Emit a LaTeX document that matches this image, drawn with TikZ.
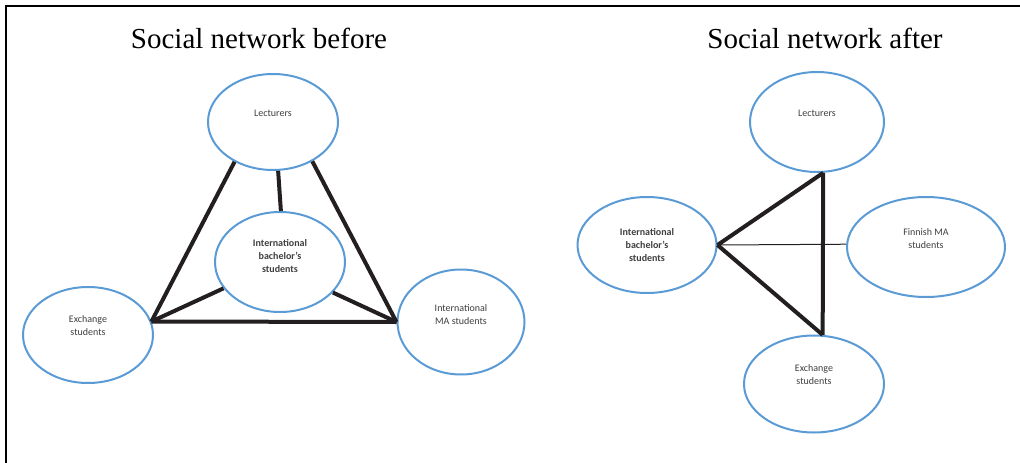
\documentclass[tikz,border=0pt]{standalone}
\usepackage{fontspec}
\setmainfont{Liberation Serif}
\newfontfamily\labelfont{Carlito}
\usetikzlibrary{shapes.geometric}
\definecolor{ringblue}{HTML}{5B9BD5}
\definecolor{inkblack}{HTML}{231F20}
\definecolor{labelgrey}{HTML}{3F3F3F}
\tikzset{
  person/.style={ellipse, draw=ringblue, line width=2pt, fill=white, inner sep=0pt},
  caption/.style={align=center, text=labelgrey, inner sep=0pt,
    font=\labelfont\fontsize{10}{13}\selectfont},
  strongcaption/.style={caption, font=\labelfont\bfseries\fontsize{10}{13}\selectfont},
  tie/.style={draw=inkblack, line width=4pt, line cap=butt},
  thintie/.style={draw=inkblack, line width=1pt},
  heading/.style={font=\fontsize{29}{32}\selectfont, text=black, inner sep=0pt},
  frameline/.style={draw=black, line width=1.8pt}
}
\begin{document}
\begin{tikzpicture}[x=1pt, y=-1pt]
\useasboundingbox (0,0) rectangle (1020,463);

% outer frame (top and left edges)
\coordinate (fbl) at (6,463);
\coordinate (ftl) at (6,6);
\coordinate (ftr) at (1020,6);
\draw[frameline] (fbl) -- (ftl) -- (ftr);

% headings
\node[heading] (hbefore) at (259,38) {Social network before};
\node[heading] (hafter) at (825,38) {Social network after};

% ---------- network before ----------
\node[person, minimum width=130pt, minimum height=96pt,
  label={[caption, yshift=9pt]center:Lecturers}] (lecL) at (273,122) {};
\node[person, minimum width=130pt, minimum height=100pt,
  label={[strongcaption, yshift=6pt]center:{International\\bachelor’s\\students}}] (bachL) at (280,262) {};
\node[person, minimum width=130pt, minimum height=96pt,
  label={[caption, yshift=9pt]center:{Exchange\\students}}] (exL) at (88,335) {};
\node[person, minimum width=127pt, minimum height=105pt,
  label={[caption, yshift=7pt]center:{International\\MA students}}] (maL) at (461,322) {};

% ---------- network after ----------
\node[person, minimum width=134pt, minimum height=100pt,
  label={[caption, yshift=9pt]center:Lecturers}] (lecR) at (817,122) {};
\node[person, minimum width=139pt, minimum height=96pt,
  label={[strongcaption, yshift=0pt]center:{International\\bachelor’s\\students}}] (bachR) at (647,245) {};
\node[person, minimum width=158pt, minimum height=100pt,
  label={[caption, yshift=8pt]center:{Finnish MA\\students}}] (finR) at (926,247) {};
\node[person, minimum width=140pt, minimum height=97pt,
  label={[caption, yshift=9pt]center:{Exchange\\students}}] (exR) at (814,384) {};

% ties, before
\draw[tie] (lecL.226) -- (exL.12);
\draw[tie] (lecL.315) -- (maL.180);
\draw[tie] (exL.12) -- (maL.180);
\draw[tie] (bachL.89) -- (lecL.276);
\draw[tie] (bachL.205) -- (exL.12);
\draw[tie] (bachL.330) -- (maL.180);

% ties, after
\draw[tie] (bachR.0) -- (lecR.277);
\draw[tie] (lecR.277) -- (exR.80);
\draw[tie] (exR.80) -- (bachR.0);
\draw[thintie] (bachR.0) -- (finR.178.5);
\end{tikzpicture}
\end{document}
